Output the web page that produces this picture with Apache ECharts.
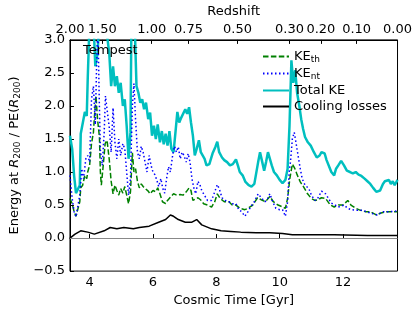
<!DOCTYPE html>
<html><head><meta charset="utf-8">
<script src="https://cdn.jsdelivr.net/npm/echarts@6/dist/echarts.min.js"></script>
<style>html,body{margin:0;padding:0;background:#fff}#c{width:415px;height:312px}</style>
</head><body><div id="c"></div>
<script>
const xMin = 3.38, xMax = 13.72;
const xTicks = [4, 6, 8, 10, 12];
const redshiftLabels = ['2.00','1.50','1.00','0.75','0.50','0.30','0.20','0.10','0.00'];
const redshiftTimes = [3.38, 4.4, 5.96, 7.12, 8.67, 10.31, 11.3, 12.43, 13.72];

const keThTime = [3.38,3.45,3.51,3.57,3.63,3.69,3.72,3.78,3.85,3.91,3.94,4.0,4.06,4.12,4.15,4.2,4.25,4.31,4.34,4.37,4.43,4.49,4.55,4.62,4.68,4.74,4.8,4.86,4.92,4.98,5.05,5.11,5.17,5.23,5.29,5.35,5.4,5.45,5.51,5.57,5.63,5.69,5.75,5.85,5.91,6.0,6.09,6.15,6.22,6.3,6.4,6.46,6.55,6.65,6.75,6.86,6.95,7.05,7.14,7.2,7.26,7.32,7.42,7.5,7.6,7.72,7.85,7.95,8.03,8.12,8.25,8.4,8.5,8.62,8.75,8.9,9.0,9.15,9.3,9.42,9.55,9.69,9.8,9.95,10.1,10.18,10.25,10.32,10.4,10.48,10.55,10.65,10.75,10.88,11.0,11.11,11.2,11.32,11.45,11.6,11.72,11.85,12.0,12.15,12.25,12.4,12.55,12.7,12.86,13.05,13.2,13.35,13.5,13.72];
const keThValues = [0.6,0.52,0.4,0.33,0.35,0.55,0.76,0.8,0.95,0.9,1.0,1.1,1.43,1.6,1.82,2.15,1.8,1.53,1.0,0.8,1.1,1.43,1.48,1.19,0.86,0.67,0.8,0.72,0.65,0.75,0.68,0.78,0.65,0.52,0.7,1.29,1.0,1.05,0.86,0.76,0.82,0.78,0.8,0.71,0.67,0.72,0.7,0.76,0.67,0.55,0.52,0.57,0.62,0.67,0.65,0.66,0.65,0.7,0.76,0.72,0.57,0.54,0.61,0.58,0.52,0.5,0.47,0.55,0.67,0.6,0.55,0.55,0.5,0.5,0.45,0.43,0.45,0.5,0.61,0.58,0.55,0.63,0.55,0.5,0.47,0.45,0.6,0.9,1.12,1.05,0.96,0.85,0.78,0.67,0.6,0.57,0.58,0.61,0.6,0.5,0.47,0.5,0.5,0.57,0.5,0.45,0.42,0.4,0.4,0.35,0.38,0.4,0.4,0.4];

const keNtTime = [3.38,3.45,3.51,3.57,3.63,3.69,3.75,3.81,3.88,3.94,4.0,4.06,4.12,4.18,4.22,4.26,4.3,4.34,4.4,4.46,4.5,4.55,4.62,4.68,4.74,4.8,4.86,4.92,4.98,5.05,5.11,5.17,5.23,5.29,5.35,5.4,5.45,5.51,5.57,5.63,5.69,5.75,5.81,5.88,5.94,6.0,6.06,6.12,6.18,6.25,6.31,6.37,6.43,6.49,6.55,6.62,6.68,6.74,6.8,6.86,6.92,6.98,7.05,7.11,7.17,7.23,7.29,7.35,7.42,7.48,7.54,7.6,7.72,7.85,7.95,8.03,8.09,8.18,8.28,8.4,8.5,8.62,8.71,8.8,8.9,9.0,9.08,9.2,9.32,9.42,9.54,9.62,9.69,9.78,9.88,10.0,10.09,10.18,10.25,10.3,10.34,10.4,10.46,10.52,10.58,10.65,10.71,10.8,10.92,11.0,11.11,11.2,11.32,11.45,11.54,11.63,11.75,11.85,12.03,12.15,12.25,12.46,12.62,12.86,13.08,13.26,13.48,13.72];
const keNtValues = [0.95,0.6,0.4,0.32,0.3,0.65,1.05,0.9,1.2,1.25,1.15,2.1,2.3,1.72,2.6,3.3,2.2,1.33,1.1,1.6,2.15,1.95,1.68,1.3,1.97,1.45,1.2,1.5,1.25,1.43,1.35,1.0,0.65,0.9,2.0,2.34,1.8,1.3,1.2,1.39,1.3,1.15,1.0,1.25,1.1,1.0,0.96,0.88,0.78,0.9,0.75,0.68,0.9,1.08,1.0,1.25,1.39,1.3,1.38,1.2,1.3,1.25,1.15,1.28,1.15,0.9,0.76,0.67,0.86,0.81,0.72,0.67,0.57,0.57,0.7,0.81,0.75,0.61,0.57,0.55,0.52,0.52,0.43,0.4,0.33,0.4,0.47,0.55,0.67,0.61,0.55,0.6,0.67,0.55,0.45,0.43,0.43,0.33,0.55,1.0,1.15,1.5,1.6,1.43,1.25,1.05,0.9,0.8,0.75,0.65,0.57,0.6,0.71,0.67,0.6,0.53,0.5,0.47,0.5,0.45,0.43,0.42,0.42,0.38,0.35,0.4,0.4,0.41];

const totalKeTime = [3.38,3.45,3.51,3.57,3.63,3.69,3.72,3.78,3.85,3.91,3.94,4.0,4.06,4.12,4.18,4.25,4.31,4.4,4.49,4.55,4.62,4.68,4.74,4.8,4.86,4.92,4.98,5.05,5.11,5.17,5.23,5.29,5.32,5.42,5.45,5.48,5.54,5.6,5.66,5.72,5.78,5.85,5.91,5.97,6.03,6.09,6.15,6.22,6.28,6.34,6.4,6.46,6.52,6.58,6.65,6.71,6.77,6.83,6.89,6.95,7.02,7.08,7.14,7.2,7.26,7.32,7.38,7.45,7.51,7.57,7.63,7.69,7.78,7.88,7.97,8.03,8.09,8.18,8.25,8.34,8.43,8.52,8.62,8.68,8.74,8.83,8.92,9.02,9.11,9.2,9.26,9.32,9.38,9.45,9.51,9.57,9.63,9.69,9.75,9.82,9.91,10.0,10.09,10.18,10.25,10.31,10.37,10.43,10.49,10.55,10.62,10.68,10.74,10.8,10.89,10.98,11.08,11.17,11.26,11.32,11.42,11.48,11.54,11.63,11.72,11.78,11.85,11.94,12.03,12.12,12.22,12.31,12.4,12.49,12.58,12.68,12.77,12.86,12.95,13.05,13.11,13.17,13.26,13.32,13.38,13.45,13.51,13.57,13.63,13.72];
const totalKeValues = [1.55,1.35,0.95,0.68,0.66,0.8,1.58,1.55,1.91,1.85,2.4,3.3,3.3,3.3,2.6,2.8,3.3,3.3,3.3,3.3,2.8,2.3,2.6,2.3,2.45,2.2,2.35,2.0,2.1,1.7,1.2,1.6,3.3,3.3,3.3,2.3,2.2,2.05,2.1,1.95,2.05,1.8,1.9,1.55,1.7,1.5,1.72,1.45,1.62,1.42,1.58,1.4,1.62,1.35,1.3,1.6,1.91,1.75,1.82,1.8,1.95,1.88,1.98,1.75,1.55,1.25,1.35,1.48,1.3,1.32,1.2,1.1,1.12,1.28,1.38,1.46,1.3,1.22,1.18,1.15,1.1,1.12,1.19,1.1,1.0,0.95,0.85,0.8,0.78,0.82,0.8,1.15,1.3,1.15,1.02,1.15,1.3,1.33,1.1,1.0,0.95,0.88,0.83,0.88,1.05,1.7,2.69,2.35,2.54,2.2,2.0,1.8,1.65,1.53,1.45,1.4,1.3,1.22,1.25,1.3,1.28,1.18,1.2,1.0,0.95,1.05,1.1,1.17,1.1,1.02,1.0,0.98,1.0,0.96,0.94,0.9,0.86,0.82,0.76,0.7,0.68,0.72,0.82,0.86,0.84,0.88,0.82,0.86,0.8,0.88];

const coolingTime = [3.38,3.54,3.72,3.94,4.15,4.46,4.65,4.86,5.08,5.38,5.57,5.88,6.18,6.4,6.55,6.65,6.8,7.02,7.23,7.38,7.54,7.85,8.15,8.46,8.77,9.26,9.69,10.09,10.4,11.23,11.72,12.77,13.72];
const coolingValues = [0.0,0.06,0.11,0.09,0.06,0.11,0.16,0.14,0.16,0.14,0.16,0.18,0.24,0.28,0.35,0.33,0.28,0.24,0.24,0.28,0.2,0.14,0.11,0.1,0.09,0.08,0.08,0.07,0.05,0.05,0.05,0.04,0.04];

const zip = (t, v) => t.map((x, i) => [x, v[i]]);
const FONT = 'DejaVu Sans';
const sub = { fontSize: 9, fontFamily: FONT, color: '#000', padding: [7, 0, 0, 0] };

const chart = echarts.init(document.getElementById('c'), null, { renderer: 'canvas' });
chart.setOption({
  animation: false,
  backgroundColor: '#fff',
  textStyle: { fontFamily: FONT },
  title: { text: 'Tempest', left: 78, top: 39, textStyle: { fontFamily: FONT, fontSize: 13, fontWeight: 'normal', color: '#000' } },
  grid: { left: 62, right: 17, top: 32, bottom: 37, show: true, borderColor: '#000', borderWidth: 1, backgroundColor: 'transparent' },
  legend: {
    orient: 'vertical', left: 257, top: 45, itemWidth: 26, itemHeight: 10, itemGap: 3,
    data: ['KE_th', 'KE_nt', 'Total KE', 'Cooling losses'],
    itemStyle: { color: 'transparent', borderWidth: 0, borderColor: 'transparent' },
    formatter: function (n) {
      if (n === 'KE_th') return 'KE{s|th}';
      if (n === 'KE_nt') return 'KE{s|nt}';
      return n;
    },
    textStyle: { fontFamily: FONT, fontSize: 13, color: '#000', padding: [0, 0, 0, 0], rich: { s: { fontSize: 9, fontFamily: FONT, color: '#000', padding: [6, 0, 0, 0] } } }
  },
  xAxis: [{
    type: 'value', min: xMin, max: xMax, position: 'bottom',
    name: 'Cosmic Time [Gyr]', nameLocation: 'middle', nameGap: 17,
    nameTextStyle: { fontFamily: FONT, fontSize: 13, color: '#000' },
    axisLine: { show: true, lineStyle: { color: '#000' } },
    axisTick: { show: true, inside: true, length: 4, customValues: xTicks, lineStyle: { color: '#000' } },
    axisLabel: { customValues: xTicks, fontFamily: FONT, fontSize: 13, color: '#000', margin: 5 },
    splitLine: { show: false }
  }, {
    type: 'value', min: xMin, max: xMax, position: 'top',
    name: 'Redshift', nameLocation: 'middle', nameGap: 21,
    nameTextStyle: { fontFamily: FONT, fontSize: 13, color: '#000' },
    axisLine: { show: true, lineStyle: { color: '#000' } },
    axisTick: { show: true, inside: true, length: 4, customValues: redshiftTimes, lineStyle: { color: '#000' } },
    axisLabel: {
      customValues: redshiftTimes, fontFamily: FONT, fontSize: 13, color: '#000', margin: 4,
      formatter: function (v) {
        let best = 0;
        for (let i = 1; i < redshiftTimes.length; i++) if (Math.abs(redshiftTimes[i] - v) < Math.abs(redshiftTimes[best] - v)) best = i;
        return redshiftLabels[best];
      }
    },
    splitLine: { show: false }
  }],
  yAxis: {
    type: 'value', min: -0.5, max: 3, interval: 0.5,
    name: '{a|Energy at }{i|R}{s|200}{a| / PE(}{i|R}{s|200}{a|)}', nameLocation: 'middle', nameGap: 40,
    nameTextStyle: { fontFamily: FONT, fontSize: 13, color: '#000', rich: {
      a: { fontFamily: FONT, fontSize: 13, color: '#000' },
      i: { fontFamily: FONT, fontSize: 13, fontStyle: 'italic', color: '#000' },
      s: sub
    } },
    axisLine: { show: true, lineStyle: { color: '#000' } },
    axisTick: { show: true, inside: true, length: 4, lineStyle: { color: '#000' } },
    axisLabel: { fontFamily: FONT, fontSize: 13, color: '#000', margin: 5, formatter: v => v.toFixed(1).replace('-', '\u2212') },
    splitLine: { show: false }
  },
  series: [
    { name: 'KE_th', type: 'line', data: zip(keThTime, keThValues), showSymbol: false, symbol: 'none', clip: true,
      lineStyle: { color: '#008000', width: 1.5, type: [5.5, 2.4] }, itemStyle: { color: '#008000' }, z: 3 },
    { name: 'KE_nt', type: 'line', data: zip(keNtTime, keNtValues), showSymbol: false, symbol: 'none', clip: true,
      lineStyle: { color: '#0000ff', width: 1.5, type: [1.5, 2.5] }, itemStyle: { color: '#0000ff' }, z: 3 },
    { name: 'Total KE', type: 'line', data: zip(totalKeTime, totalKeValues), showSymbol: false, symbol: 'none', clip: true,
      lineStyle: { color: '#00bfbf', width: 2.5 }, itemStyle: { color: '#00bfbf' }, z: 2 },
    { name: 'Cooling losses', type: 'line', data: zip(coolingTime, coolingValues), showSymbol: false, symbol: 'none', clip: true,
      lineStyle: { color: '#000', width: 1.5 }, itemStyle: { color: '#000' }, z: 4,
      markLine: { silent: true, symbol: 'none', label: { show: false }, lineStyle: { color: '#888', width: 1, type: 'solid' }, data: [{ yAxis: 0 }] } }
  ]
});
</script></body></html>
